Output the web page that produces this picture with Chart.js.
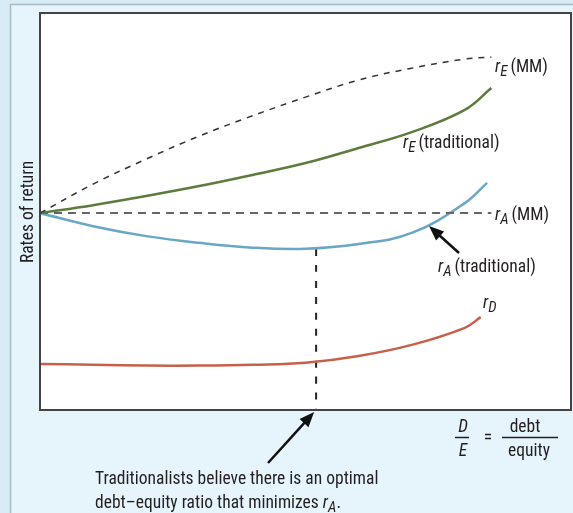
<!DOCTYPE html>
<html>
<head>
<meta charset="utf-8">
<script src="https://cdn.jsdelivr.net/npm/chart.js@4"></script>
<style>
  body { margin: 0; background: #d8ecf6; }
  #wrap { width: 573px; height: 513px; }
</style>
</head>
<body>
<div id="wrap"><canvas id="myChart" width="573" height="513"></canvas></div>
<script>
// valeurs (x = D/E en %, y = taux en %)
var xValues = [0, 10, 20, 30, 40, 50, 60, 70, 80, 85];
var rEMM    = [49.6, 56.9, 63.2, 69.0, 74.1, 78.8, 83.1, 86.1, 88.4, 88.9];
var rETrad  = [49.6, 51.6, 53.9, 56.4, 59.2, 62.2, 66.0, 70.0, 75.6, 81.1];
var rAMM    = [49.6, 49.6, 49.6, 49.6, 49.6, 49.6, 49.6, 49.6, 49.6, 49.6];
var rAX     = [0, 10, 20, 30, 40, 50, 60, 70, 80, 84.2];
var rATrad  = [49.6, 46.3, 43.8, 42.1, 40.9, 40.6, 41.8, 44.6, 52.1, 57.2];
var rDX     = [0, 10, 20, 30, 40, 50, 60, 70, 80, 83];
var rD      = [11.6, 11.4, 11.2, 11.2, 11.4, 11.9, 13.6, 16.4, 20.7, 23.4];
var optimumX = 52;

function pts(xs, ys) {
    return xs.map(function(x, i) { return { x: x, y: ys[i] }; });
}

var FONT = '"Liberation Sans Narrow", "Arial Narrow", "Roboto Condensed", "DejaVu Sans Condensed", sans-serif';
var FS = 17.5, FSUB = 15;

// texte r avec indice en italique
function drawR(ctx, x, y, sub, rest) {
    ctx.textBaseline = 'alphabetic';
    ctx.textAlign = 'left';
    ctx.font = 'italic ' + FS + 'px ' + FONT;
    ctx.fillText('r', x, y);
    x += ctx.measureText('r').width;
    ctx.font = 'italic ' + FSUB + 'px ' + FONT;
    ctx.fillText(sub, x, y + 4);
    x += ctx.measureText(sub).width;
    if (rest) {
        ctx.font = FS + 'px ' + FONT;
        ctx.fillText(rest, x + 3, y);
        x += 3 + ctx.measureText(rest).width;
    }
    return x;
}

function arrow(ctx, x1, y1, x2, y2) {
    var a = Math.atan2(y2 - y1, x2 - x1);
    var len = 15, w = 6;
    ctx.beginPath();
    ctx.moveTo(x1, y1);
    ctx.lineTo(x2 - Math.cos(a) * len * 0.7, y2 - Math.sin(a) * len * 0.7);
    ctx.stroke();
    ctx.beginPath();
    ctx.moveTo(x2, y2);
    ctx.lineTo(x2 - Math.cos(a) * len + Math.sin(a) * w, y2 - Math.sin(a) * len - Math.cos(a) * w);
    ctx.lineTo(x2 - Math.cos(a) * len - Math.sin(a) * w, y2 - Math.sin(a) * len + Math.cos(a) * w);
    ctx.closePath();
    ctx.fill();
}

var decor = {
    id: 'decor',
    beforeDraw: function(chart) {
        var ctx = chart.ctx, ca = chart.chartArea;
        ctx.save();
        ctx.fillStyle = '#d8ecf6';
        ctx.fillRect(0, 0, 573, 513);
        ctx.fillStyle = '#e6f5fc';
        ctx.fillRect(11, 5, 562, 508);
        ctx.strokeStyle = '#a9b9c2';
        ctx.lineWidth = 1.5;
        ctx.beginPath();
        ctx.moveTo(10.5, 513);
        ctx.lineTo(10.5, 4.5);
        ctx.lineTo(573, 4.5);
        ctx.stroke();
        ctx.fillStyle = '#ffffff';
        ctx.fillRect(ca.left, ca.top, ca.right - ca.left, ca.bottom - ca.top);
        ctx.restore();
    },
    afterDraw: function(chart) {
        var ctx = chart.ctx, ca = chart.chartArea;
        ctx.save();
        ctx.strokeStyle = '#444';
        ctx.lineWidth = 2;
        ctx.strokeRect(ca.left, ca.top, ca.right - ca.left, ca.bottom - ca.top);

        ctx.fillStyle = '#231f20';
        drawR(ctx, 495, 72, 'E', '(MM)');
        drawR(ctx, 403, 148, 'E', '(traditional)');
        drawR(ctx, 495, 220, 'A', '(MM)');
        drawR(ctx, 438, 272, 'A', '(traditional)');
        drawR(ctx, 483, 308, 'D', '');

        // titre de l'axe y
        ctx.save();
        ctx.translate(33, 212);
        ctx.rotate(-Math.PI / 2);
        ctx.font = FS + 'px ' + FONT;
        ctx.textAlign = 'center';
        ctx.textBaseline = 'alphabetic';
        ctx.fillText('Rates of return', 0, 0);
        ctx.restore();

        // D/E = debt/equity
        ctx.font = 'italic ' + FS + 'px ' + FONT;
        ctx.textAlign = 'center';
        ctx.fillText('D', 463, 432);
        ctx.fillText('E', 463, 456);
        ctx.font = FS + 'px ' + FONT;
        ctx.fillText('=', 488, 443);
        ctx.fillText('debt', 525, 432);
        ctx.fillText('equity', 529, 456);
        ctx.lineWidth = 1.5;
        ctx.strokeStyle = '#231f20';
        ctx.beginPath();
        ctx.moveTo(455, 437.5); ctx.lineTo(469, 437.5);
        ctx.moveTo(502, 437.5); ctx.lineTo(558, 437.5);
        ctx.stroke();

        // commentaire
        ctx.textAlign = 'left';
        ctx.font = FS + 'px ' + FONT;
        ctx.fillText('Traditionalists believe there is an optimal', 95, 484);
        var t = 'debt\u2013equity ratio that minimizes ';
        ctx.fillText(t, 95, 508);
        var w = ctx.measureText(t).width;
        var rx = drawR(ctx, 95 + w, 508, 'A', '');
        ctx.font = FS + 'px ' + FONT;
        ctx.fillText('.', rx, 508);

        // flèches
        ctx.strokeStyle = '#111';
        ctx.fillStyle = '#111';
        ctx.lineWidth = 2.5;
        arrow(ctx, 459, 253, 429, 226);
        var xs = chart.scales.x;
        arrow(ctx, 268, 463, xs.getPixelForValue(optimumX) - 2, 412);
        ctx.restore();
    }
};

var ctx = document.getElementById('myChart').getContext('2d');
var myChart = new Chart(ctx, {
    type: 'line',
    data: {
        datasets: [{
            label: 'rE (MM)',
            data: pts(xValues, rEMM),
            borderColor: '#333',
            borderWidth: 1.5,
            borderDash: [6, 6]
        }, {
            label: 'rE (traditional)',
            data: pts(xValues, rETrad),
            borderColor: '#5d7b3c',
            borderWidth: 2.5
        }, {
            label: 'rA (MM)',
            data: pts(xValues, rAMM),
            borderColor: '#666',
            borderWidth: 2,
            borderDash: [8, 6]
        }, {
            label: 'rA (traditional)',
            data: pts(rAX, rATrad),
            borderColor: '#6ba6c5',
            borderWidth: 2.5
        }, {
            label: 'rD',
            data: pts(rDX, rD),
            borderColor: '#c6604a',
            borderWidth: 2.5
        }, {
            label: 'optimum',
            data: [{ x: optimumX, y: Math.min.apply(null, rATrad) }, { x: optimumX, y: 0 }],
            borderColor: '#222',
            borderWidth: 2,
            borderDash: [7, 9]
        }]
    },
    options: {
        responsive: false,
        animation: false,
        layout: { padding: { left: 40, top: 13, right: 2, bottom: 103 } },
        elements: {
            point: { radius: 0 },
            line: { tension: 0.4 }
        },
        plugins: { legend: { display: false }, tooltip: { enabled: false } },
        scales: {
            x: { type: 'linear', min: 0, max: 100, display: false },
            y: { min: 0, max: 100, display: false }
        }
    },
    plugins: [decor]
});
</script>
</body>
</html>
